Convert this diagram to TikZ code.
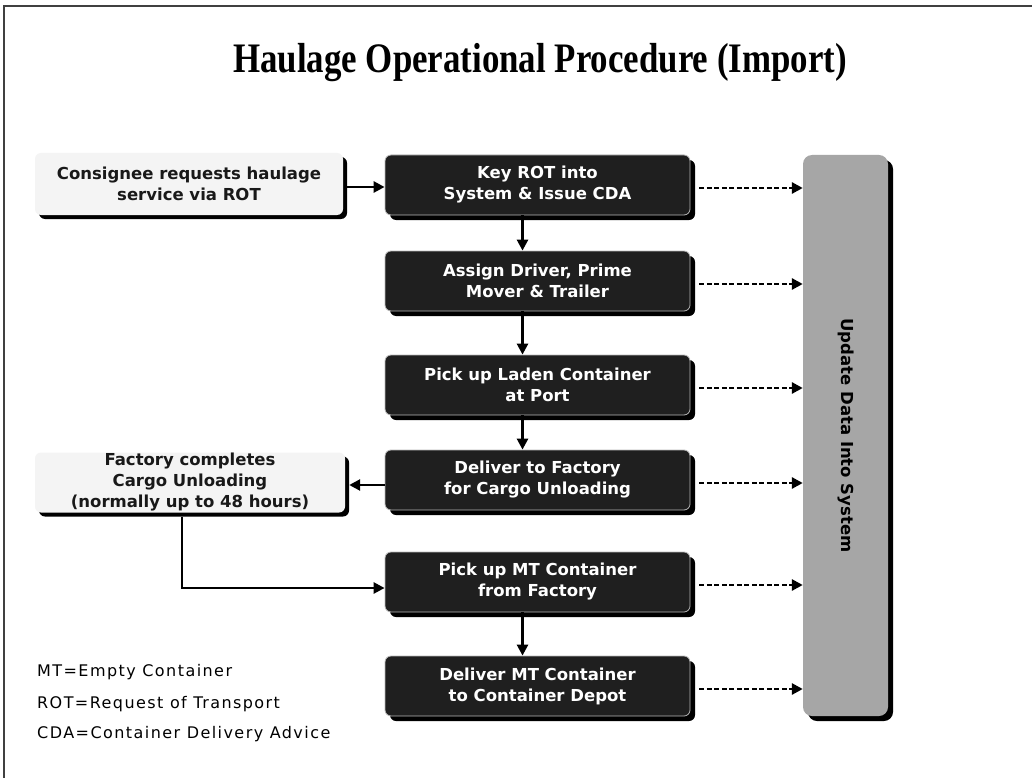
\documentclass[tikz,border=0pt]{standalone}
\usepackage{fontspec}
\usetikzlibrary{arrows.meta,shadows,calc}
\newfontfamily\boxfont{DejaVu Sans}
\newfontfamily\legendfont{DejaVu Sans}[LetterSpace=9]
\newfontfamily\titlefont{Liberation Serif}

\tikzset{
  stepbox/.style={rectangle, rounded corners=6pt, fill=black!88, draw=gray!55,
    line width=0.8pt, text=white, align=center,
    font=\boxfont\bfseries\fontsize{16.5}{21}\selectfont,
    minimum width=305pt, minimum height=60pt, inner sep=0pt,
    drop shadow={shadow xshift=5pt, shadow yshift=-5pt, fill=black, opacity=1}},
  notebox/.style={rectangle, rounded corners=6pt, fill=gray!9, draw=none,
    text=black!90, align=center,
    font=\boxfont\bfseries\fontsize{16.5}{21}\selectfont,
    inner sep=0pt,
    drop shadow={shadow xshift=4pt, shadow yshift=-4pt, fill=black, opacity=1}},
  sysbox/.style={rectangle, rounded corners=9pt, fill=gray!70, draw=none,
    minimum width=85pt, minimum height=561pt, inner sep=0pt,
    drop shadow={shadow xshift=5pt, shadow yshift=-5pt, fill=black, opacity=1}},
  arr/.style={line width=2.6pt, -{Triangle[length=11pt,width=11pt]}},
  dasharr/.style={line width=2.8pt, dash pattern=on 5pt off 2.5pt,
    -{Triangle[length=11pt,width=11pt]}},
  legend/.style={anchor=base west, inner sep=0pt, text=black,
    font=\legendfont\fontsize{16}{18}\selectfont},
}

\begin{document}
\begin{tikzpicture}[x=1pt,y=-1pt]
  \useasboundingbox (0,0) rectangle (1032,778);
  \fill[white] (0,0) rectangle (1032,778);

  % page frame (top and left edges)
  \draw[line width=2pt, black!75] (4,778) -- (4,6) -- (1032,6);

  % title
  \node[anchor=base, inner sep=0pt] (title) at (540,73)
    {\scalebox{0.83}[1]{\titlefont\bfseries\fontsize{42}{44}\selectfont Haulage Operational Procedure (Import)}};

  % side column
  \node[sysbox] (upd) at (845.5,435.5) {};
  \node[rotate=-90, font=\boxfont\bfseries\fontsize{16.5}{18}\selectfont, text=black]
    (updtext) at (upd.center) {Update Data Into System};

  % note boxes
  \node[notebox, minimum width=308pt, minimum height=62pt] (req) at (189,184)
    {Consignee requests haulage\\service via ROT};
  \node[notebox, minimum width=310pt, minimum height=60pt] (fac) at (190,482.5)
    {Factory completes\\Cargo Unloading\\(normally up to 48 hours)};

  % procedure steps
  \node[stepbox] (key)    at (537.5,185) {Key ROT into\\System \& Issue CDA};
  \node[stepbox] (assign) at (537.5,281) {Assign Driver, Prime\\Mover \& Trailer};
  \node[stepbox] (laden)  at (537.5,385) {Pick up Laden Container\\at Port};
  \node[stepbox] (deliv)  at (537.5,480) {Deliver to Factory\\for Cargo Unloading};
  \node[stepbox] (pickmt) at (537.5,582) {Pick up MT Container\\from Factory};
  \node[stepbox] (depot)  at (537.5,686) {Deliver MT Container\\to Container Depot};

  % main flow
  \draw[arr] ([yshift=-3pt]req.east) ++(4pt,0) -- ([yshift=-3pt]req.east -| key.west);
  \draw[arr] ([xshift=-15pt]key.south)    -- ([xshift=-15pt]assign.north);
  \draw[arr] ([xshift=-15pt]assign.south) -- ([xshift=-15pt]laden.north);
  \draw[arr] ([xshift=-15pt]laden.south)  -- ([xshift=-15pt]deliv.north);
  \draw[arr] ([yshift=-5pt]deliv.west) -- ([yshift=-5pt,xshift=4pt]deliv.west -| fac.east);
  \draw[arr] ([xshift=-8pt,yshift=-4pt]fac.south) |- ([yshift=-6pt]pickmt.west);
  \draw[arr] ([xshift=-15pt]pickmt.south) -- ([xshift=-15pt]depot.north);

  % data updates
  \foreach \s in {key,assign,laden,deliv,pickmt,depot}
    \draw[dasharr] ([xshift=9pt,yshift=-3pt]\s.east) -- ([yshift=-3pt]\s.east -| upd.west);

  % abbreviations
  \node[legend] (l1) at (37,676) {MT=Empty Container};
  \node[legend] (l2) at (37,708) {ROT=Request of Transport};
  \node[legend] (l3) at (37,738) {CDA=Container Delivery Advice};
\end{tikzpicture}
\end{document}
